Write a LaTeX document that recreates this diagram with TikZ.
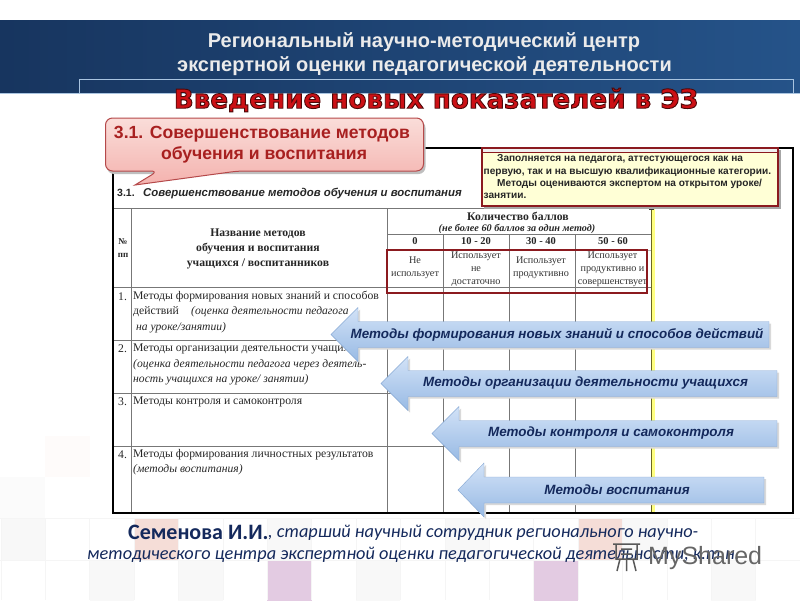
\documentclass[tikz,border=0pt]{standalone}
\usepackage{fontspec}
\setmainfont{Liberation Serif}
\setsansfont{Liberation Sans}
\newfontfamily\wideblack{DejaVu Sans}
\newfontfamily\carlito{Carlito}

\begin{document}
\begin{tikzpicture}[x=1pt,y=-1pt]
  % Local definitions
  \def\outlined#1{\special{pdf:code 2 Tr 0.9 w 0.3 0.03 0.03 RG}#1\special{pdf:code 0 Tr}}

  % Colors
  \definecolor{bandleft}{HTML}{17355F}
  \definecolor{bandright}{HTML}{255389}
  \definecolor{framecolor}{HTML}{A9C4E0}
  \definecolor{titlered}{HTML}{CC1015}
  \definecolor{calloutred}{HTML}{A82020}
  \definecolor{calloutedge}{HTML}{B5494A}
  \definecolor{callouttop}{HTML}{FADDD9}
  \definecolor{calloutbottom}{HTML}{F4B2AE}
  \definecolor{noteedge}{HTML}{8B1A1F}
  \definecolor{noteyellow}{HTML}{FFFFD6}
  \definecolor{gridcolor}{HTML}{777777}
  \definecolor{arrowtop}{HTML}{D2E2F7}
  \definecolor{arrowbottom}{HTML}{98BAE4}
  \definecolor{arrowedge}{HTML}{86A8D4}
  \definecolor{navy}{HTML}{14295C}
  \definecolor{tilepink}{HTML}{F5DDD7}
  \definecolor{tilelilac}{HTML}{E3CBE2}
  \definecolor{tilegrey}{HTML}{F8F8F8}

  % Styles
  \tikzstyle{lbl}=[inner sep=0pt,anchor=west,text=black!85]
  \tikzstyle{cell}=[inner sep=0pt,font=\fontsize{10.2}{13}\selectfont,text=black!80]
  \tikzstyle{rowtext}=[lbl,font=\fontsize{11.7}{13}\selectfont]
  \tikzstyle{rownote}=[lbl,font=\fontsize{11.6}{13}\itshape\selectfont]
  \tikzstyle{headtext}=[inner sep=0pt,font=\fontsize{11.7}{13}\bfseries\selectfont,text=black!85]
  \tikzstyle{scoretext}=[inner sep=0pt,font=\fontsize{10.5}{12}\bfseries\selectfont,text=black!85]
  \tikzstyle{notetext}=[lbl,font=\sffamily\bfseries\fontsize{10.1}{12}\selectfont]
  \tikzstyle{bandtext}=[inner sep=0pt,text=white!92!black,font=\sffamily\bfseries\fontsize{20}{24}\selectfont]
  \tikzstyle{callouttext}=[inner sep=0pt,text=calloutred,font=\sffamily\bfseries\fontsize{17.6}{21}\selectfont]
  \tikzstyle{gridline}=[gridcolor,line width=0.9pt]
  \tikzstyle{bigline}=[inner sep=0pt,anchor=west,text=navy,font=\carlito\itshape\fontsize{18.3}{22}\selectfont]

  \useasboundingbox (0,0) rectangle (800,600);

  % Background tiles
  \foreach \col/\row/\shade in {-3/518/tilegrey,-1/560/tilegrey,1/560/tilegrey,3/518/tilegrey,5/560/tilegrey,7/518/tilegrey,9/560/tilegrey,11/518/tilegrey,13/560/tilegrey,
      0/518/tilepink,10/518/tilepink,3/560/tilelilac,9/560/tilelilac}
    \fill[\shade] (134+44.4*\col,\row) rectangle ++(44.4,42);
  \foreach \col in {-3,...,14}
    \draw[black!4] (134+44.4*\col,518) -- (134+44.4*\col,600);
  \draw[black!4] (0,518) -- (800,518);
  \draw[black!4] (0,560) -- (800,560);
  \fill[tilepink!12] (45,436) rectangle (90,477);
  \fill[tilegrey!50] (0,477) rectangle (45,518);

  % Header band
  \fill[left color=bandleft,right color=bandright] (0,20) rectangle (800,93);
  \draw[framecolor] (79,93) -- (79,79) -- (793,79) -- (793,93);
  \draw[framecolor] (0,93.5) -- (800,93.5);
  \node (centre1) at (424,42) [bandtext] {Региональный научно-методический центр};
  \node (centre2) at (424.5,66) [bandtext] {экспертной оценки педагогической деятельности};

  % Heading
  \node (heading) at (436,100) [inner sep=0pt,text=titlered,font=\wideblack\bfseries\fontsize{26.2}{30}\selectfont] {\outlined{Введение новых показателей в ЭЗ}};

  % Table
  \draw[gridline] (113,208) -- (651,208);
  \draw[gridline] (387,234) -- (651,234);
  \draw[black!30] (387,250) -- (651,250);
  \foreach \yy in {287,340,393,446}
    \draw[gridline] (113,\yy) -- (651,\yy);
  \draw[gridline] (131,208) -- (131,513);
  \draw[gridline] (387,208) -- (387,513);
  \foreach \xx in {443.5,509,575}
    \draw[gridline] (\xx,234) -- (\xx,513);
  \fill[noteyellow!60!yellow] (651,208) rectangle (655,513);
  \draw[olive!70!black,line width=0.9pt] (651,208) -- (651,513);
  \draw[black,line width=1.4pt] (113,148) rectangle (793,513);

  \node (num31) at (117,193) [lbl,font=\sffamily\bfseries\fontsize{10.5}{13}\selectfont] {3.1.};
  \node (title31) at (143,193) [lbl,font=\sffamily\bfseries\itshape\fontsize{11.4}{13}\selectfont] {Совершенствование методов обучения и воспитания};

  \node (numhead) at (123,242) [headtext,font=\fontsize{9}{11}\bfseries\selectfont] {№};
  \node (pphead) at (123,255) [headtext,font=\fontsize{9}{11}\bfseries\selectfont] {пп};
  \node (namehead1) at (258,234) [headtext] {Название методов};
  \node (namehead2) at (258,249) [headtext] {обучения и воспитания};
  \node (namehead3) at (258,264) [headtext] {учащихся / воспитанников};
  \node (scorehead) at (518,216) [headtext] {Количество баллов};
  \node (scorenote) at (517,229) [inner sep=0pt,text=black!85,font=\fontsize{10.2}{12}\bfseries\itshape\selectfont] {(не более 60 баллов за один метод)};
  \node (score0) at (415,241) [scoretext] {0};
  \node (score1) at (476,241) [scoretext] {10 - 20};
  \node (score2) at (541,241) [scoretext] {30 - 40};
  \node (score3) at (613,241) [scoretext] {50 - 60};

  \node (cella) at (415,267.5) [cell,align=center] {Не\\использует};
  \node (cellb) at (476,269) [cell,align=center] {Использует\\не\\достаточно};
  \node (cellc) at (541,268) [cell,align=center] {Использует\\продуктивно};
  \node (celld) at (612.5,269) [cell,align=center] {Использует\\продуктивно и\\совершенствует};
  \draw[noteedge,line width=1.5pt] (387,250) rectangle (647,293);

  \node (no1) at (118,297) [rowtext] {1.};
  \node (row1a) at (133,297) [rowtext] {Методы формирования новых знаний и способов};
  \node (row1b) at (133,312) [rowtext] {действий};
  \node (row1c) at (191,312) [rownote] {(оценка деятельности педагога};
  \node (row1d) at (136,328) [rownote] {на уроке/занятии)};
  \node (no2) at (118,349) [rowtext] {2.};
  \node (row2a) at (133,349) [rowtext] {Методы организации деятельности учащихся};
  \node (row2b) at (133,365) [rownote] {(оценка деятельности педагога через деятель-};
  \node (row2c) at (133,380) [rownote] {ность учащихся  на уроке/ занятии)};
  \node (no3) at (118,402) [rowtext] {3.};
  \node (row3a) at (133,402) [rowtext] {Методы контроля и самоконтроля};
  \node (no4) at (118,455) [rowtext] {4.};
  \node (row4a) at (133,455) [rowtext] {Методы формирования личностных результатов};
  \node (row4b) at (133,470) [rownote] {(методы воспитания)};

  % Callout
  \fill[black!25,rounded corners=7pt] (107,121) -- (107,174) -- (425.5,174) -- (425.5,121) -- cycle;
  \draw[calloutedge,line width=1pt,rounded corners=7pt,top color=callouttop,bottom color=calloutbottom]
    (105.5,118) -- (105.5,171) -- (158,171) [sharp corners] -- (135,185) [rounded corners=7pt] -- (238,171) -- (423.5,171) -- (423.5,118) -- cycle;
  \node (callout1) at (262,134) [callouttext] {3.1. Совершенствование методов};
  \node (callout2) at (264,155) [callouttext] {обучения и воспитания};

  % Note
  \draw[black!60] (651,207.5) -- (715,207.5);
  \fill[black!80] (649,206) rectangle (654,210);
  \fill[black!35] (484,150) rectangle (781,209);
  \draw[noteedge,line width=1.7pt,fill=noteyellow] (482,148) rectangle (778,206);
  \fill[black!6] (483,149) rectangle (777,152);
  \draw[noteedge,line width=0.8pt] (482,152) -- (778,152);
  \node (note1) at (497,159.5) [notetext] {Заполняется на педагога, аттестующегося как  на};
  \node (note2) at (483.5,171.5) [notetext] {первую, так и на высшую квалификационные категории.};
  \node (note3) at (497,183.5) [notetext] {Методы оцениваются экспертом на открытом уроке/};
  \node (note4) at (483.5,195.5) [notetext] {занятии.};

  % Arrows
  \foreach \tip/\base/\tail/\ymid/\tx/\name/\txt in {
      331/358/769/334.5/557/first/Методы формирования новых знаний и способов действий,
      381/408/777/383.5/585.5/second/Методы организации деятельности учащихся,
      432/459/777/433.5/611/third/Методы контроля и самоконтроля,
      458/484/764/490/617/fourth/Методы воспитания}
  {
    \fill[black!15] (\tip+2,\ymid+2) -- (\base+2,\ymid-25) -- (\base+2,\ymid-11) -- (\tail+2,\ymid-11) -- (\tail+2,\ymid+15) -- (\base+2,\ymid+15) -- (\base+2,\ymid+29) -- cycle;
    \draw[arrowedge,top color=arrowtop,bottom color=arrowbottom]
      (\tip,\ymid) -- (\base,\ymid-27) -- (\base,\ymid-13) -- (\tail,\ymid-13) -- (\tail,\ymid+13) -- (\base,\ymid+13) -- (\base,\ymid+27) -- cycle;
    \node (arrow\name) at (\tx,\ymid) [inner sep=0pt,text=navy,font=\sffamily\bfseries\itshape\fontsize{13.4}{16}\selectfont] {\txt};
  }

  % Signature
  \node (signame) at (128,532) [bigline,font=\carlito\bfseries\fontsize{22}{26}\selectfont] {Семенова И.И.};
  \node (sigtop) at (268,533) [bigline] {, старший научный сотрудник регионального научно-};
  \node (sigbot) at (87,555) [bigline] {методического центра экспертной оценки педагогической деятельности, к.т.н.};

  % Watermark
  \node (mark) at (648,558) [inner sep=0pt,anchor=west,text=black!60,font=\sffamily\fontsize{25}{30}\selectfont] {MyShared};
  \draw[black!65,line width=1.5pt] (613,544) -- (640,544) (616,544) rectangle (637,559) (621,549) -- (632,549) (621,554) -- (632,554) (620,559) -- (617,571) (633,559) -- (636,571) (626.5,559) -- (626.5,571);
\end{tikzpicture}
\end{document}
